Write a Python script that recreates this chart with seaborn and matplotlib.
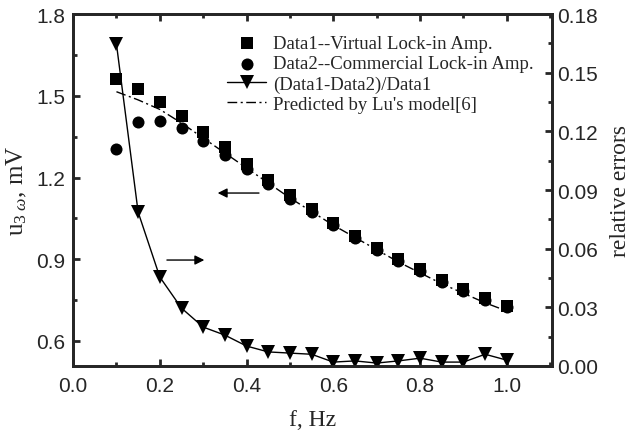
import matplotlib
matplotlib.use("Agg")
import matplotlib.pyplot as plt
from matplotlib.ticker import MultipleLocator, FormatStrFormatter
import pandas as pd
import seaborn as sns

sns.set_style("ticks")
plt.rcParams["font.family"] = ["Liberation Sans", "DejaVu Sans"]
plt.rcParams["mathtext.fontset"] = "custom"
plt.rcParams["mathtext.rm"] = "Liberation Serif"
plt.rcParams["mathtext.it"] = "Liberation Serif:italic"

freq = [0.10, 0.15, 0.20, 0.25, 0.30, 0.35, 0.40, 0.45, 0.50, 0.55,
        0.60, 0.65, 0.70, 0.75, 0.80, 0.85, 0.90, 0.95, 1.00]
data1 = [1.561, 1.525, 1.477, 1.425, 1.367, 1.312, 1.250, 1.190, 1.135, 1.085,
         1.033, 0.985, 0.940, 0.900, 0.864, 0.824, 0.790, 0.758, 0.730]
data2 = [1.305, 1.404, 1.408, 1.380, 1.335, 1.283, 1.230, 1.176, 1.120, 1.073,
         1.026, 0.978, 0.934, 0.894, 0.857, 0.817, 0.784, 0.750, 0.725]
model = [1.515, 1.485, 1.450, 1.400, 1.345, 1.290, 1.235, 1.180, 1.125, 1.075,
         1.025, 0.980, 0.935, 0.890, 0.850, 0.810, 0.775, 0.740, 0.710]
rel_err = [0.1647, 0.0787, 0.0455, 0.0296, 0.0199, 0.0158, 0.0102, 0.0072, 0.0066, 0.0060,
           0.0020, 0.0026, 0.0015, 0.0026, 0.0040, 0.0020, 0.0020, 0.0060, 0.0030]

df = pd.DataFrame({"f": freq, "d1": data1, "d2": data2, "model": model, "err": rel_err})

fig = plt.figure(figsize=(6.3, 4.31), dpi=100)
ax = fig.add_axes([0.116, 0.1485, 0.76, 0.8165])
ax2 = ax.twinx()

sns.scatterplot(data=df, x="f", y="d1", ax=ax, marker="s", s=70, color="black",
                edgecolor="black", linewidth=0, label="Data1--Virtual Lock-in Amp.")
sns.scatterplot(data=df, x="f", y="d2", ax=ax, marker="o", s=75, color="black",
                edgecolor="black", linewidth=0, label="Data2--Commercial Lock-in Amp.")
sns.lineplot(data=df, x="f", y="model", ax=ax, color="black", linewidth=1,
             linestyle=(0, (7, 2.5, 1.5, 2.5)), label="Predicted by Lu's model[6]")
sns.lineplot(data=df, x="f", y="err", ax=ax2, color="black", linewidth=1,
             marker="v", markersize=10, markeredgewidth=0,
             label="(Data1-Data2)/Data1")

ax.set_xlim(0, 1.104)
ax.set_ylim(0.508, 1.8)
ax2.set_ylim(0, 0.18)

ax.xaxis.set_major_locator(MultipleLocator(0.2))
ax.xaxis.set_minor_locator(MultipleLocator(0.1))
ax.yaxis.set_major_locator(MultipleLocator(0.3))
ax.yaxis.set_minor_locator(MultipleLocator(0.15))
ax2.yaxis.set_major_locator(MultipleLocator(0.03))
ax2.yaxis.set_minor_locator(MultipleLocator(0.015))
ax.set_yticks([0.6, 0.9, 1.2, 1.5, 1.8])

for a in (ax, ax2):
    for sp in a.spines.values():
        sp.set_linewidth(2)
        sp.set_visible(True)
ax.tick_params(which="both", direction="in", top=True, right=False, labelsize=15, width=2)
ax.tick_params(which="major", length=5)
ax.tick_params(which="minor", length=3)
ax.tick_params(axis="x", which="major", pad=7)
ax.tick_params(axis="y", which="major", pad=5.5)
ax2.tick_params(which="both", direction="in", labelsize=15, width=2)
ax2.tick_params(which="major", length=5)
ax2.tick_params(which="minor", length=3)
ax.xaxis.set_major_formatter(FormatStrFormatter("%.1f"))
ax.yaxis.set_major_formatter(FormatStrFormatter("%.1f"))
ax2.yaxis.set_major_formatter(FormatStrFormatter("%.2f"))

ax.set_xlabel("f, Hz", fontfamily="Liberation Serif", fontsize=17, labelpad=10)
ax.set_ylabel(r"u$_{3\ \omega}$, mV", fontfamily="Liberation Serif", fontsize=18, labelpad=5)
ax2.set_ylabel("relative errors", fontfamily="Liberation Serif", fontsize=17, labelpad=9)

# direction arrows
ax.annotate("", xy=(0.327, 1.143), xytext=(0.435, 1.143),
            arrowprops=dict(arrowstyle="-|>", color="black", lw=1, mutation_scale=14))
ax.annotate("", xy=(0.309, 0.897), xytext=(0.210, 0.897),
            arrowprops=dict(arrowstyle="-|>", color="black", lw=1, mutation_scale=14))

h1, l1 = ax.get_legend_handles_labels()
h2, l2 = ax2.get_legend_handles_labels()
if ax2.get_legend():
    ax2.get_legend().remove()
handles = [h1[0], h1[1], h2[0], h1[2]]
labels = [l1[0], l1[1], l2[0], l1[2]]
ax.legend(handles, labels, loc="upper right", bbox_to_anchor=(0.962, 0.94), frameon=False,
          prop={"family": "Liberation Serif", "size": 13.5}, handlelength=2.1,
          handletextpad=0.35, labelspacing=0.16, borderaxespad=0, borderpad=0)

fig.savefig("out.png", dpi=100)
